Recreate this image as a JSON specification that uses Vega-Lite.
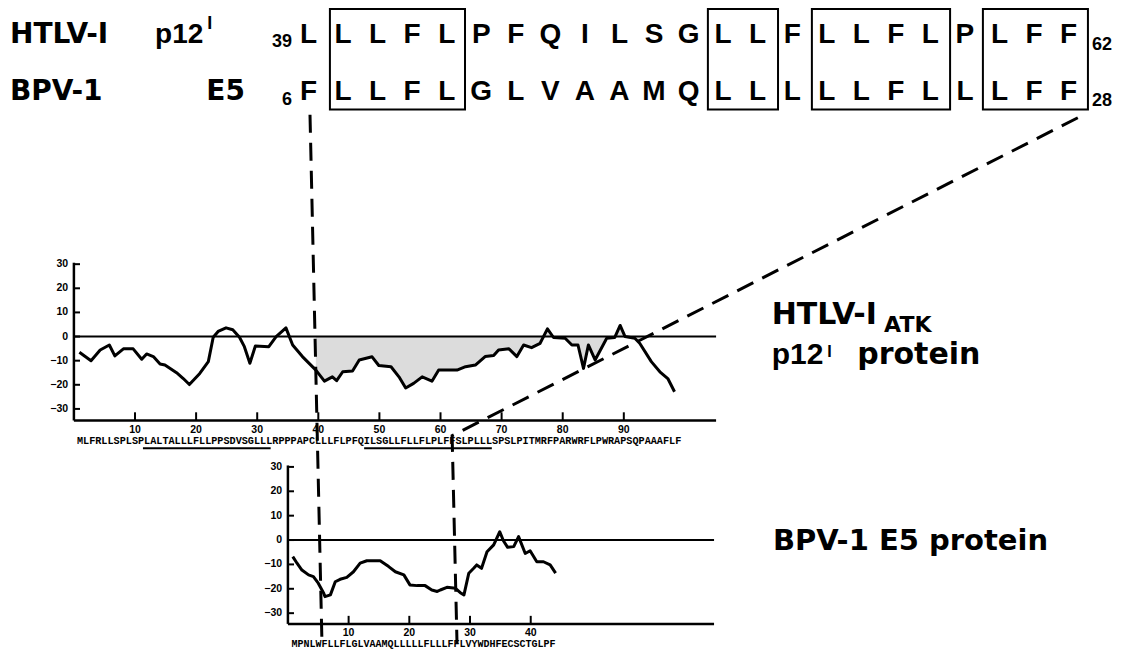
{
"$schema": "https://vega.github.io/schema/vega-lite/v6.json",
"width": 1121, "height": 650, "padding": 0,
"autosize": {"type": "fit", "contains": "padding"},
"background": "white",
"config": {"view": {"stroke": null}},
"resolve": {"scale": {"x": "independent", "y": "independent"}},
"datasets": {
"align": [
{"col":0,"row":0,"aa":"L"},{"col":1,"row":0,"aa":"L"},{"col":2,"row":0,"aa":"L"},{"col":3,"row":0,"aa":"F"},{"col":4,"row":0,"aa":"L"},{"col":5,"row":0,"aa":"P"},{"col":6,"row":0,"aa":"F"},{"col":7,"row":0,"aa":"Q"},{"col":8,"row":0,"aa":"I"},{"col":9,"row":0,"aa":"L"},{"col":10,"row":0,"aa":"S"},{"col":11,"row":0,"aa":"G"},{"col":12,"row":0,"aa":"L"},{"col":13,"row":0,"aa":"L"},{"col":14,"row":0,"aa":"F"},{"col":15,"row":0,"aa":"L"},{"col":16,"row":0,"aa":"L"},{"col":17,"row":0,"aa":"F"},{"col":18,"row":0,"aa":"L"},{"col":19,"row":0,"aa":"P"},{"col":20,"row":0,"aa":"L"},{"col":21,"row":0,"aa":"F"},{"col":22,"row":0,"aa":"F"},
{"col":0,"row":1,"aa":"F"},{"col":1,"row":1,"aa":"L"},{"col":2,"row":1,"aa":"L"},{"col":3,"row":1,"aa":"F"},{"col":4,"row":1,"aa":"L"},{"col":5,"row":1,"aa":"G"},{"col":6,"row":1,"aa":"L"},{"col":7,"row":1,"aa":"V"},{"col":8,"row":1,"aa":"A"},{"col":9,"row":1,"aa":"A"},{"col":10,"row":1,"aa":"M"},{"col":11,"row":1,"aa":"Q"},{"col":12,"row":1,"aa":"L"},{"col":13,"row":1,"aa":"L"},{"col":14,"row":1,"aa":"L"},{"col":15,"row":1,"aa":"L"},{"col":16,"row":1,"aa":"L"},{"col":17,"row":1,"aa":"F"},{"col":18,"row":1,"aa":"L"},{"col":19,"row":1,"aa":"L"},{"col":20,"row":1,"aa":"L"},{"col":21,"row":1,"aa":"F"},{"col":22,"row":1,"aa":"F"}
],
"boxes": [{"c0":0.62,"c1":4.53},{"c0":11.56,"c1":13.59},{"c0":14.57,"c1":18.57},{"c0":19.52,"c1":22.56}],
"htlv": [
{"res":0.9,"h":-6.5},{"res":2.8,"h":-10},{"res":4.3,"h":-5.6},{"res":5.8,"h":-3.5},{"res":6.7,"h":-8},{"res":8.1,"h":-5.1},{"res":9.7,"h":-5.1},{"res":11.1,"h":-9.4},{"res":11.9,"h":-7.2},{"res":13.0,"h":-8.3},{"res":14.1,"h":-11.4},{"res":14.9,"h":-11.8},{"res":16.8,"h":-15},{"res":17.9,"h":-17.4},{"res":18.9,"h":-19.9},{"res":20.6,"h":-15.3},{"res":22.0,"h":-10.4},{"res":22.8,"h":-0.3},{"res":23.6,"h":2.1},{"res":24.9,"h":3.6},{"res":26.0,"h":2.8},{"res":27.1,"h":-0.3},{"res":27.9,"h":-4.2},{"res":28.8,"h":-11.1},{"res":29.7,"h":-3.9},{"res":31.9,"h":-4.2},{"res":33.1,"h":0},{"res":34.7,"h":3.6},{"res":35.8,"h":-3.5},{"res":37.4,"h":-8.3},{"res":39.6,"h":-13.9},{"res":41.0,"h":-18.5},{"res":42.3,"h":-16.7},{"res":43.0,"h":-18.3},{"res":44.0,"h":-14.6},{"res":45.6,"h":-14.3},{"res":46.7,"h":-9.7},{"res":48.8,"h":-8.4},{"res":49.9,"h":-12},{"res":51.9,"h":-12.5},{"res":53.2,"h":-16.7},{"res":54.3,"h":-21.3},{"res":55.6,"h":-19.4},{"res":57.0,"h":-16.7},{"res":58.6,"h":-18.5},{"res":59.7,"h":-13.9},{"res":62.7,"h":-13.9},{"res":64.1,"h":-12.5},{"res":65.7,"h":-11.8},{"res":67.3,"h":-8.3},{"res":68.7,"h":-7.9},{"res":69.5,"h":-5.6},{"res":71.2,"h":-5.1},{"res":72.5,"h":-8.3},{"res":73.6,"h":-3.5},{"res":74.9,"h":-4.6},{"res":76.3,"h":-2.8},{"res":77.5,"h":3.2},{"res":78.5,"h":-0.4},{"res":80.4,"h":-0.7},{"res":81.5,"h":-3.5},{"res":82.5,"h":-3.5},{"res":83.4,"h":-13.2},{"res":84.2,"h":-3.5},{"res":85.3,"h":-9.7},{"res":87.2,"h":-0.7},{"res":88.5,"h":-0.4},{"res":89.4,"h":4.6},{"res":90.2,"h":0},{"res":91.8,"h":-0.7},{"res":92.6,"h":-2.8},{"res":94.5,"h":-10.4},{"res":95.9,"h":-14.6},{"res":97.2,"h":-17.4},{"res":98.3,"h":-22.9}
],
"bpv": [
{"res":0.8,"h":-6.8},{"res":1.5,"h":-9.5},{"res":2.3,"h":-12.3},{"res":3.4,"h":-14.3},{"res":4.2,"h":-15},{"res":5.0,"h":-17.7},{"res":5.9,"h":-21.8},{"res":6.1,"h":-23.2},{"res":7.0,"h":-22.5},{"res":7.8,"h":-17.1},{"res":8.6,"h":-16.1},{"res":9.7,"h":-15.3},{"res":10.8,"h":-13},{"res":11.9,"h":-9.5},{"res":13.0,"h":-8.5},{"res":15.2,"h":-8.5},{"res":16.6,"h":-10.9},{"res":17.7,"h":-13},{"res":19.1,"h":-14.3},{"res":20.1,"h":-18.4},{"res":21.3,"h":-18.7},{"res":22.6,"h":-18.7},{"res":23.7,"h":-20.5},{"res":24.6,"h":-21.1},{"res":25.1,"h":-20.5},{"res":26.2,"h":-19.4},{"res":27.6,"h":-19.8},{"res":28.4,"h":-21.6},{"res":29.0,"h":-22.5},{"res":29.8,"h":-13.6},{"res":30.6,"h":-11.6},{"res":31.1,"h":-10.2},{"res":31.9,"h":-11.6},{"res":32.8,"h":-4.8},{"res":33.9,"h":-2},{"res":34.9,"h":3.4},{"res":35.5,"h":-0.3},{"res":36.2,"h":-3},{"res":37.2,"h":-2.7},{"res":38.0,"h":1.4},{"res":39.1,"h":-5.5},{"res":39.9,"h":-4.4},{"res":41.0,"h":-8.9},{"res":42.1,"h":-8.9},{"res":43.2,"h":-10.2},{"res":44.1,"h":-13.6}
],
"hX": [{"t":10},{"t":20},{"t":30},{"t":40},{"t":50},{"t":60},{"t":70},{"t":80},{"t":90}],
"bX": [{"t":10},{"t":20},{"t":30},{"t":40}],
"yT": [{"t":-30},{"t":-20},{"t":-10},{"t":0},{"t":10},{"t":20},{"t":30}],
"hSeq": [{"seq":"MLFRLLSPLSPLALTALLLFLLPPSDVSGLLLRPPPAPCLLLFLPFQILSGLLFLLFLPLFFSLPLLLSPSLPITMRFPARWRFLPWRAPSQPAAAFLF","start":0.5}],
"bSeq": [{"seq":"MPNLWFLLFLGLVAAMQLLLLLFLLLFFLVYWDHFECSCTGLPF","start":0.6}],
"under": [{"from":11.3,"to":32.2},{"from":47.5,"to":68.4}],
"conn": [{"line":"a","o":1,"res":38.64,"h":91.9},{"line":"a","o":2,"res":40.6,"h":-127.1},{"line":"b","o":1,"res":164.3,"h":90.7},{"line":"b","o":2,"res":61.9,"h":-41.1},{"line":"b","o":3,"res":62.7,"h":-127.1}]
},
"layer": [
{"data":{"name":"boxes"},"mark":{"type":"rect","fillOpacity":0,"stroke":"black","strokeWidth":2},
 "encoding":{"x":{"field":"c0","type":"quantitative","scale":{"domain":[-8.929,23.517],"nice":false,"zero":false},"axis":null},"x2":{"field":"c1"},
 "y":{"datum":-0.596,"type":"quantitative","scale":{"domain":[-0.754,10.649],"reverse":true,"nice":false,"zero":false},"axis":null},"y2":{"datum":1.175}}},
{"data":{"name":"align"},"mark":{"type":"text","font":"Liberation Sans","fontWeight":"bold","fontSize":28,"align":"center","baseline":"alphabetic","color":"black"},
 "encoding":{"x":{"field":"col","type":"quantitative","scale":{"domain":[-8.929,23.517],"nice":false,"zero":false},"axis":null},
 "y":{"field":"row","type":"quantitative","scale":{"domain":[-0.754,10.649],"reverse":true,"nice":false,"zero":false},"axis":null},"text":{"field":"aa"}}},
{"data":{"values":[{"label":"HTLV-I","row":0},{"label":"BPV-1","row":1}]},"mark":{"type":"text","font":"DejaVu Sans","fontWeight":"bold","fontSize":28,"align":"left","baseline":"alphabetic","color":"black"},
 "encoding":{"x":{"datum":-8.64,"type":"quantitative","scale":{"domain":[-8.929,23.517],"nice":false,"zero":false},"axis":null},
 "y":{"field":"row","type":"quantitative","scale":{"domain":[-0.754,10.649],"reverse":true,"nice":false,"zero":false},"axis":null},"text":{"field":"label"}}},
{"data":{"values":[{}]},"mark":{"type":"text","text":"p12","font":"Liberation Sans","fontWeight":"bold","fontSize":28,"align":"left","baseline":"alphabetic","color":"black"},
 "encoding":{"x":{"datum":-4.44,"type":"quantitative","scale":{"domain":[-8.929,23.517],"nice":false,"zero":false},"axis":null},
 "y":{"datum":0,"type":"quantitative","scale":{"domain":[-0.754,10.649],"reverse":true,"nice":false,"zero":false},"axis":null}}},
{"data":{"values":[{}]},"mark":{"type":"text","text":"I","font":"Liberation Sans","fontWeight":"bold","fontSize":18,"align":"left","baseline":"alphabetic","color":"black"},
 "encoding":{"x":{"datum":-2.93,"type":"quantitative","scale":{"domain":[-8.929,23.517],"nice":false,"zero":false},"axis":null},
 "y":{"datum":-0.24,"type":"quantitative","scale":{"domain":[-0.754,10.649],"reverse":true,"nice":false,"zero":false},"axis":null}}},
{"data":{"values":[{}]},"mark":{"type":"text","text":"E5","font":"DejaVu Sans","fontWeight":"bold","fontSize":28,"align":"right","baseline":"alphabetic","color":"black"},
 "encoding":{"x":{"datum":-1.84,"type":"quantitative","scale":{"domain":[-8.929,23.517],"nice":false,"zero":false},"axis":null},
 "y":{"datum":1,"type":"quantitative","scale":{"domain":[-0.754,10.649],"reverse":true,"nice":false,"zero":false},"axis":null}}},
{"data":{"values":[{"n":"39","row":0.07},{"n":"6","row":1.1}]},"mark":{"type":"text","font":"Liberation Sans","fontWeight":"bold","fontSize":18,"align":"right","baseline":"alphabetic","color":"black"},
 "encoding":{"x":{"datum":-0.48,"type":"quantitative","scale":{"domain":[-8.929,23.517],"nice":false,"zero":false},"axis":null},
 "y":{"field":"row","type":"quantitative","scale":{"domain":[-0.754,10.649],"reverse":true,"nice":false,"zero":false},"axis":null},"text":{"field":"n"}}},
{"data":{"values":[{"n":"62","row":0.12},{"n":"28","row":1.12}]},"mark":{"type":"text","font":"Liberation Sans","fontWeight":"bold","fontSize":18,"align":"left","baseline":"alphabetic","color":"black"},
 "encoding":{"x":{"datum":22.68,"type":"quantitative","scale":{"domain":[-8.929,23.517],"nice":false,"zero":false},"axis":null},
 "y":{"field":"row","type":"quantitative","scale":{"domain":[-0.754,10.649],"reverse":true,"nice":false,"zero":false},"axis":null},"text":{"field":"n"}}},

{"data":{"name":"htlv"},"transform":[{"filter":"datum.res >= 38 && datum.res <= 93"}],"mark":{"type":"area","color":"#dcdcdc"},
 "encoding":{"x":{"field":"res","type":"quantitative","scale":{"domain":[-12.095,171.37],"nice":false,"zero":false},"axis":null},
 "y":{"field":"h","type":"quantitative","scale":{"domain":[-129.1,139.5],"nice":false,"zero":false},"axis":null},"y2":{"datum":0}}},
{"data":{"values":[{}]},"mark":{"type":"rule","color":"black","strokeWidth":2},
 "encoding":{"x":{"datum":0,"type":"quantitative","scale":{"domain":[-12.095,171.37],"nice":false,"zero":false},"axis":null},"x2":{"datum":105.1},
 "y":{"datum":0,"type":"quantitative","scale":{"domain":[-129.1,139.5],"nice":false,"zero":false},"axis":null}}},
{"data":{"values":[{}]},"mark":{"type":"rule","color":"black","strokeWidth":2.5},
 "encoding":{"x":{"datum":0,"type":"quantitative","scale":{"domain":[-12.095,171.37],"nice":false,"zero":false},"axis":null},"x2":{"datum":105.1},
 "y":{"datum":-34.8,"type":"quantitative","scale":{"domain":[-129.1,139.5],"nice":false,"zero":false},"axis":null}}},
{"data":{"values":[{}]},"mark":{"type":"rule","color":"black","strokeWidth":2.5},
 "encoding":{"x":{"datum":0,"type":"quantitative","scale":{"domain":[-12.095,171.37],"nice":false,"zero":false},"axis":null},
 "y":{"datum":30.6,"type":"quantitative","scale":{"domain":[-129.1,139.5],"nice":false,"zero":false},"axis":null},"y2":{"datum":-34.8}}},
{"data":{"name":"hX"},"mark":{"type":"rule","color":"black","strokeWidth":2},
 "encoding":{"x":{"field":"t","type":"quantitative","scale":{"domain":[-12.095,171.37],"nice":false,"zero":false},"axis":null},
 "y":{"datum":-34.8,"type":"quantitative","scale":{"domain":[-129.1,139.5],"nice":false,"zero":false},"axis":null},"y2":{"datum":-31.4}}},
{"data":{"name":"yT"},"mark":{"type":"rule","color":"black","strokeWidth":2},
 "encoding":{"x":{"datum":0,"type":"quantitative","scale":{"domain":[-12.095,171.37],"nice":false,"zero":false},"axis":null},"x2":{"datum":1.0},
 "y":{"field":"t","type":"quantitative","scale":{"domain":[-129.1,139.5],"nice":false,"zero":false},"axis":null}}},
{"data":{"name":"hX"},"mark":{"type":"text","font":"Liberation Sans","fontWeight":"bold","fontSize":10.5,"align":"center","baseline":"middle","color":"black"},
 "encoding":{"x":{"field":"t","type":"quantitative","scale":{"domain":[-12.095,171.37],"nice":false,"zero":false},"axis":null},
 "y":{"datum":-38.8,"type":"quantitative","scale":{"domain":[-129.1,139.5],"nice":false,"zero":false},"axis":null},"text":{"field":"t","type":"quantitative","format":"d"}}},
{"data":{"name":"yT"},"mark":{"type":"text","font":"Liberation Sans","fontWeight":"bold","fontSize":10.5,"align":"right","baseline":"middle","color":"black"},
 "encoding":{"x":{"datum":-0.95,"type":"quantitative","scale":{"domain":[-12.095,171.37],"nice":false,"zero":false},"axis":null},
 "y":{"field":"t","type":"quantitative","scale":{"domain":[-129.1,139.5],"nice":false,"zero":false},"axis":null},"text":{"field":"t","type":"quantitative","format":"d"}}},
{"data":{"name":"htlv"},"mark":{"type":"line","color":"black","strokeWidth":3,"strokeJoin":"round"},
 "encoding":{"x":{"field":"res","type":"quantitative","scale":{"domain":[-12.095,171.37],"nice":false,"zero":false},"axis":null},
 "y":{"field":"h","type":"quantitative","scale":{"domain":[-129.1,139.5],"nice":false,"zero":false},"axis":null}}},
{"data":{"name":"hSeq"},"mark":{"type":"text","font":"Liberation Mono","fontWeight":"bold","fontSize":10.18,"align":"left","baseline":"middle","color":"black"},
 "encoding":{"x":{"field":"start","type":"quantitative","scale":{"domain":[-12.095,171.37],"nice":false,"zero":false},"axis":null},
 "y":{"datum":-43.4,"type":"quantitative","scale":{"domain":[-129.1,139.5],"nice":false,"zero":false},"axis":null},"text":{"field":"seq"}}},
{"data":{"name":"under"},"mark":{"type":"rule","color":"black","strokeWidth":2},
 "encoding":{"x":{"field":"from","type":"quantitative","scale":{"domain":[-12.095,171.37],"nice":false,"zero":false},"axis":null},"x2":{"field":"to"},
 "y":{"datum":-46.3,"type":"quantitative","scale":{"domain":[-129.1,139.5],"nice":false,"zero":false},"axis":null}}},
{"data":{"values":[{}]},"mark":{"type":"text","text":"HTLV-I","font":"DejaVu Sans","fontWeight":"bold","fontSize":30,"align":"left","baseline":"alphabetic","color":"black"},
 "encoding":{"x":{"datum":114.2,"type":"quantitative","scale":{"domain":[-12.095,171.37],"nice":false,"zero":false},"axis":null},
 "y":{"datum":5.2,"type":"quantitative","scale":{"domain":[-129.1,139.5],"nice":false,"zero":false},"axis":null}}},
{"data":{"values":[{}]},"mark":{"type":"text","text":"ATK","font":"DejaVu Sans","fontWeight":"bold","fontSize":22,"align":"left","baseline":"alphabetic","color":"black"},
 "encoding":{"x":{"datum":132.6,"type":"quantitative","scale":{"domain":[-12.095,171.37],"nice":false,"zero":false},"axis":null},
 "y":{"datum":1.7,"type":"quantitative","scale":{"domain":[-129.1,139.5],"nice":false,"zero":false},"axis":null}}},
{"data":{"values":[{}]},"mark":{"type":"text","text":"p12","font":"Liberation Sans","fontWeight":"bold","fontSize":30,"align":"left","baseline":"alphabetic","color":"black"},
 "encoding":{"x":{"datum":114.2,"type":"quantitative","scale":{"domain":[-12.095,171.37],"nice":false,"zero":false},"axis":null},
 "y":{"datum":-11.4,"type":"quantitative","scale":{"domain":[-129.1,139.5],"nice":false,"zero":false},"axis":null}}},
{"data":{"values":[{}]},"mark":{"type":"text","text":"I","font":"Liberation Sans","fontWeight":"bold","fontSize":16,"align":"left","baseline":"alphabetic","color":"black"},
 "encoding":{"x":{"datum":123.3,"type":"quantitative","scale":{"domain":[-12.095,171.37],"nice":false,"zero":false},"axis":null},
 "y":{"datum":-8.4,"type":"quantitative","scale":{"domain":[-129.1,139.5],"nice":false,"zero":false},"axis":null}}},
{"data":{"values":[{}]},"mark":{"type":"text","text":"protein","font":"DejaVu Sans","fontWeight":"bold","fontSize":30,"align":"left","baseline":"alphabetic","color":"black"},
 "encoding":{"x":{"datum":128.2,"type":"quantitative","scale":{"domain":[-12.095,171.37],"nice":false,"zero":false},"axis":null},
 "y":{"datum":-11.4,"type":"quantitative","scale":{"domain":[-129.1,139.5],"nice":false,"zero":false},"axis":null}}},

{"data":{"values":[{}]},"mark":{"type":"rule","color":"black","strokeWidth":2},
 "encoding":{"x":{"datum":0,"type":"quantitative","scale":{"domain":[-47.43,137.24],"nice":false,"zero":false},"axis":null},"x2":{"datum":70.2},
 "y":{"datum":0,"type":"quantitative","scale":{"domain":[-44.29,221.55],"nice":false,"zero":false},"axis":null}}},
{"data":{"values":[{}]},"mark":{"type":"rule","color":"black","strokeWidth":2.5},
 "encoding":{"x":{"datum":0,"type":"quantitative","scale":{"domain":[-47.43,137.24],"nice":false,"zero":false},"axis":null},"x2":{"datum":70.2},
 "y":{"datum":-34.4,"type":"quantitative","scale":{"domain":[-44.29,221.55],"nice":false,"zero":false},"axis":null}}},
{"data":{"values":[{}]},"mark":{"type":"rule","color":"black","strokeWidth":2.5},
 "encoding":{"x":{"datum":0,"type":"quantitative","scale":{"domain":[-47.43,137.24],"nice":false,"zero":false},"axis":null},
 "y":{"datum":30.6,"type":"quantitative","scale":{"domain":[-44.29,221.55],"nice":false,"zero":false},"axis":null},"y2":{"datum":-34.4}}},
{"data":{"name":"bX"},"mark":{"type":"rule","color":"black","strokeWidth":2},
 "encoding":{"x":{"field":"t","type":"quantitative","scale":{"domain":[-47.43,137.24],"nice":false,"zero":false},"axis":null},
 "y":{"datum":-34.4,"type":"quantitative","scale":{"domain":[-44.29,221.55],"nice":false,"zero":false},"axis":null},"y2":{"datum":-31.1}}},
{"data":{"name":"yT"},"mark":{"type":"rule","color":"black","strokeWidth":2},
 "encoding":{"x":{"datum":0,"type":"quantitative","scale":{"domain":[-47.43,137.24],"nice":false,"zero":false},"axis":null},"x2":{"datum":1.0},
 "y":{"field":"t","type":"quantitative","scale":{"domain":[-44.29,221.55],"nice":false,"zero":false},"axis":null}}},
{"data":{"name":"bX"},"mark":{"type":"text","font":"Liberation Sans","fontWeight":"bold","fontSize":10.5,"align":"center","baseline":"middle","color":"black"},
 "encoding":{"x":{"field":"t","type":"quantitative","scale":{"domain":[-47.43,137.24],"nice":false,"zero":false},"axis":null},
 "y":{"datum":-38.2,"type":"quantitative","scale":{"domain":[-44.29,221.55],"nice":false,"zero":false},"axis":null},"text":{"field":"t","type":"quantitative","format":"d"}}},
{"data":{"name":"yT"},"mark":{"type":"text","font":"Liberation Sans","fontWeight":"bold","fontSize":10.5,"align":"right","baseline":"middle","color":"black"},
 "encoding":{"x":{"datum":-0.95,"type":"quantitative","scale":{"domain":[-47.43,137.24],"nice":false,"zero":false},"axis":null},
 "y":{"field":"t","type":"quantitative","scale":{"domain":[-44.29,221.55],"nice":false,"zero":false},"axis":null},"text":{"field":"t","type":"quantitative","format":"d"}}},
{"data":{"name":"bpv"},"mark":{"type":"line","color":"black","strokeWidth":3,"strokeJoin":"round"},
 "encoding":{"x":{"field":"res","type":"quantitative","scale":{"domain":[-47.43,137.24],"nice":false,"zero":false},"axis":null},
 "y":{"field":"h","type":"quantitative","scale":{"domain":[-44.29,221.55],"nice":false,"zero":false},"axis":null}}},
{"data":{"name":"bSeq"},"mark":{"type":"text","font":"Liberation Mono","fontWeight":"bold","fontSize":10,"align":"left","baseline":"middle","color":"black"},
 "encoding":{"x":{"field":"start","type":"quantitative","scale":{"domain":[-47.43,137.24],"nice":false,"zero":false},"axis":null},
 "y":{"datum":-42.6,"type":"quantitative","scale":{"domain":[-44.29,221.55],"nice":false,"zero":false},"axis":null},"text":{"field":"seq"}}},
{"data":{"values":[{}]},"mark":{"type":"text","text":"BPV-1 E5 protein","font":"DejaVu Sans","fontWeight":"bold","fontSize":29,"align":"left","baseline":"alphabetic","color":"black"},
 "encoding":{"x":{"datum":79.9,"type":"quantitative","scale":{"domain":[-47.43,137.24],"nice":false,"zero":false},"axis":null},
 "y":{"datum":-4.2,"type":"quantitative","scale":{"domain":[-44.29,221.55],"nice":false,"zero":false},"axis":null}}},

{"data":{"name":"conn"},"mark":{"type":"line","color":"black","strokeWidth":3,"strokeDash":[18,10]},
 "encoding":{"x":{"field":"res","type":"quantitative","scale":{"domain":[-12.095,171.37],"nice":false,"zero":false},"axis":null},
 "y":{"field":"h","type":"quantitative","scale":{"domain":[-129.1,139.5],"nice":false,"zero":false},"axis":null},"detail":{"field":"line"},"order":{"field":"o"}}}
]
}
